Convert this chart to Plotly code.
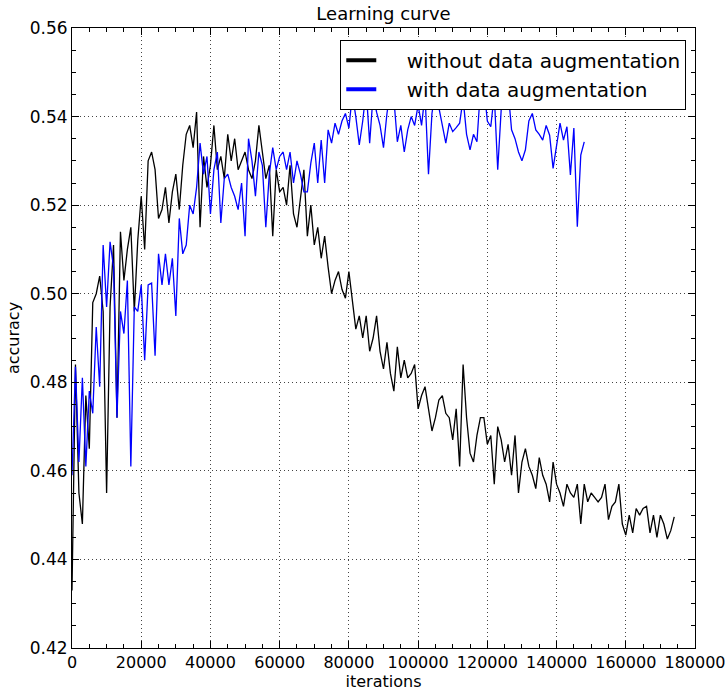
import plotly.graph_objects as go

# Validation accuracy logged every 1000 iterations
STEP = 1000

acc_without_aug = [
    0.433, 0.484, 0.455, 0.448, 0.477, 0.465, 0.498, 0.500, 0.504, 0.496,
    0.455, 0.497, 0.511, 0.472, 0.514, 0.503, 0.510, 0.515, 0.496, 0.512,
    0.522, 0.510, 0.530, 0.532, 0.528, 0.517, 0.519, 0.524, 0.516, 0.523,
    0.527, 0.519, 0.529, 0.536, 0.538, 0.533, 0.541, 0.515, 0.531, 0.524,
    0.529, 0.538, 0.528, 0.531, 0.526, 0.536, 0.530, 0.535, 0.528, 0.530,
    0.532, 0.528, 0.526, 0.530, 0.538, 0.532, 0.526, 0.529, 0.513, 0.528,
    0.523, 0.524, 0.520, 0.529, 0.518, 0.515, 0.521, 0.528, 0.513, 0.520,
    0.511, 0.515, 0.508, 0.513, 0.506, 0.500, 0.503, 0.505, 0.501, 0.499,
    0.505, 0.499, 0.492, 0.495, 0.490, 0.495, 0.487, 0.490, 0.495, 0.487,
    0.483, 0.489, 0.482, 0.478, 0.488, 0.481, 0.485, 0.481, 0.482, 0.484,
    0.474, 0.477, 0.479, 0.474, 0.469, 0.472, 0.476, 0.477, 0.473, 0.472,
    0.467, 0.474, 0.461, 0.484, 0.472, 0.464, 0.462, 0.468, 0.472, 0.472,
    0.466, 0.468, 0.457, 0.470, 0.467, 0.462, 0.466, 0.459, 0.468, 0.455,
    0.462, 0.465, 0.461, 0.459, 0.456, 0.463, 0.459, 0.457, 0.453, 0.462,
    0.457, 0.455, 0.452, 0.457, 0.455, 0.454, 0.457, 0.448, 0.457, 0.453,
    0.455, 0.454, 0.453, 0.454, 0.457, 0.449, 0.452, 0.453, 0.457, 0.448,
    0.4455, 0.450, 0.446, 0.4515, 0.450, 0.4515, 0.452, 0.446, 0.450, 0.445,
    0.450, 0.448, 0.4446, 0.4465, 0.4496,
]

acc_with_aug = [
    0.459, 0.4835, 0.462, 0.481, 0.461, 0.478, 0.473, 0.4925, 0.479, 0.511,
    0.497, 0.5117, 0.506, 0.472, 0.496, 0.491, 0.503, 0.461, 0.497, 0.496,
    0.502, 0.485, 0.502, 0.5024, 0.486, 0.509, 0.502, 0.509, 0.502, 0.508,
    0.495, 0.517, 0.509, 0.511, 0.520, 0.518, 0.524, 0.534, 0.527, 0.531,
    0.518, 0.528, 0.532, 0.516, 0.526, 0.527, 0.524, 0.522, 0.519, 0.525,
    0.513, 0.535, 0.530, 0.522, 0.532, 0.529, 0.515, 0.527, 0.533, 0.528,
    0.531, 0.532, 0.528, 0.532, 0.525, 0.530, 0.527, 0.523, 0.523, 0.5295,
    0.534, 0.525, 0.5347, 0.525, 0.537, 0.534, 0.5385, 0.536, 0.539, 0.5407,
    0.5374, 0.545, 0.540, 0.5336, 0.539, 0.546, 0.534, 0.545, 0.541, 0.538,
    0.533, 0.5407, 0.546, 0.544, 0.5343, 0.538, 0.532, 0.537, 0.540, 0.538,
    0.5426, 0.538, 0.545, 0.527, 0.5407, 0.546, 0.542, 0.5377, 0.534, 0.5385,
    0.5366, 0.5375, 0.5385, 0.544, 0.536, 0.5325, 0.536, 0.5343, 0.546, 0.547,
    0.539, 0.5377, 0.545, 0.528, 0.5415, 0.545, 0.546, 0.537, 0.535, 0.532,
    0.530, 0.5325, 0.539, 0.5407, 0.537, 0.536, 0.5347, 0.538, 0.5358, 0.5283,
    0.533, 0.5385, 0.5347, 0.5377, 0.5268, 0.5374, 0.5151, 0.5313, 0.5343,
]

iters_without_aug = list(range(0, len(acc_without_aug) * STEP, STEP))
iters_with_aug = list(range(0, len(acc_with_aug) * STEP, STEP))

series_names = ["without data augmentation", "with data augmentation"]
series_colors = ["#000000", "#0000ff"]

x_ticks = [0, 20000, 40000, 60000, 80000, 100000, 120000, 140000, 160000, 180000]
y_ticks = [0.42, 0.44, 0.46, 0.48, 0.50, 0.52, 0.54, 0.56]

FONT = "DejaVu Sans, Verdana, sans-serif"
GAP = "\u00a0" * 4  # extra room between legend key and label

fig = go.Figure()

# Data curves (blue drawn last so it sits on top)
fig.add_trace(go.Scatter(
    x=iters_without_aug, y=acc_without_aug, mode="lines",
    line=dict(color=series_colors[0], width=1.3),
    showlegend=False, hoverinfo="x+y",
))
fig.add_trace(go.Scatter(
    x=iters_with_aug, y=acc_with_aug, mode="lines",
    line=dict(color=series_colors[1], width=1.3),
    showlegend=False, hoverinfo="x+y",
))

# Legend keys with thicker strokes
for name, color in zip(series_names, series_colors):
    fig.add_trace(go.Scatter(
        x=[None], y=[None], mode="lines", name=GAP + name,
        line=dict(color=color, width=4),
    ))

axis_common = dict(
    showline=True, linecolor="black", linewidth=1, mirror="allticks",
    ticks="inside", ticklen=7, tickwidth=1, tickcolor="black",
    showgrid=True, gridcolor="#444444", gridwidth=1, griddash="1px,3px",
    zeroline=False, automargin=False, ticklabeloverflow="allow",
)

fig.update_layout(
    width=726, height=693,
    margin=dict(l=72, r=31, t=28, b=45),
    paper_bgcolor="white", plot_bgcolor="white",
    font=dict(family=FONT, color="black"),
    title=dict(
        text="Learning curve", x=0.5, xanchor="center",
        xref="paper", y=1, yref="paper", yanchor="bottom", pad=dict(b=8),
        font=dict(family=FONT, size=18, color="black"),
    ),
    xaxis=dict(
        axis_common, range=[0, 180000], tickvals=x_ticks,
        ticktext=[str(v) for v in x_ticks],
        tickfont=dict(family=FONT, size=16, color="black"),
        minor=dict(ticks="inside", dtick=5000, ticklen=4, tickcolor="black", showgrid=False),
        title=dict(text="iterations", standoff=4, font=dict(family=FONT, size=16, color="black")),
    ),
    yaxis=dict(
        axis_common, range=[0.42, 0.56], tickvals=y_ticks,
        ticktext=[f"{v:.2f}" for v in y_ticks],
        tickfont=dict(family=FONT, size=17, color="black"),
        minor=dict(ticks="inside", dtick=0.005, ticklen=4, tickcolor="black", showgrid=False),
        title=dict(text="accuracy", standoff=6, font=dict(family=FONT, size=16, color="black")),
    ),
    legend=dict(
        x=0.986, y=0.981, xanchor="right", yanchor="top",
        bgcolor="white", bordercolor="black", borderwidth=1,
        font=dict(family=FONT, size=20, color="black"),
        itemwidth=30, tracegroupgap=0,
    ),
)

fig.write_html("out.html")
